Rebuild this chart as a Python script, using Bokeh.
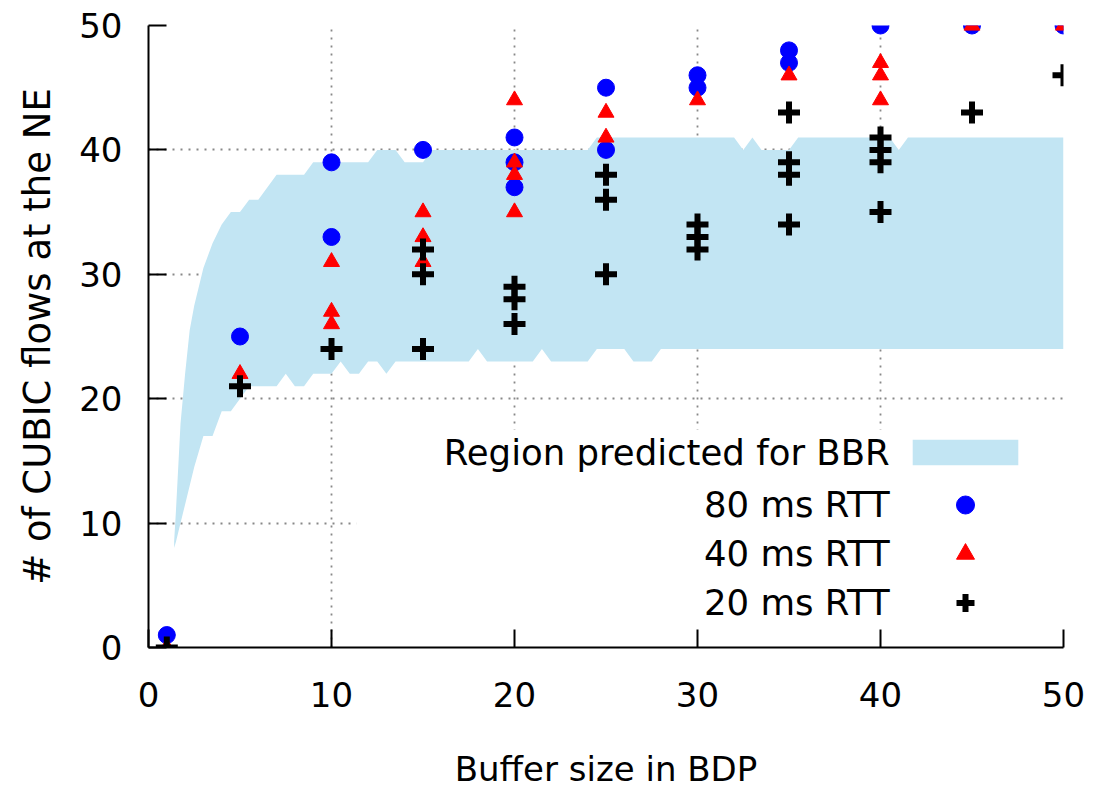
from bokeh.plotting import figure
from bokeh.models import (Range1d, FixedTicker, Legend, LegendItem, Label,
                          BoxAnnotation)
from bokeh.core.properties import value
from bokeh.embed import file_html
from bokeh.resources import INLINE

FONT = "DejaVu Sans"

# ---------------- data ----------------
x_ticks = [0, 10, 20, 30, 40, 50]
y_ticks = [0, 10, 20, 30, 40, 50]

band_x = [1.4, 1.5, 1.75, 2.0, 2.25, 2.5,
          3.0, 3.5, 4.0, 4.5, 5.0, 5.5, 6.0, 6.5, 7.0, 7.5, 8.0, 8.5, 9.0, 9.5,
          10.0, 10.5, 11.0, 11.5, 12.0, 12.5, 13.0, 13.5, 14.0, 14.5, 15.0, 15.5,
          16.0, 16.5, 17.0, 17.5, 18.0, 18.5, 19.0, 19.5, 20.0, 20.5, 21.0, 21.5,
          22.0, 22.5, 23.0, 23.5, 24.0, 24.5, 25.0, 25.5, 26.0, 26.5, 27.0, 27.5,
          28.0, 28.5, 29.0, 29.5, 30.0, 30.5, 31.0, 31.5, 32.0, 32.5, 33.0, 33.5,
          34.0, 34.5, 35.0, 35.5, 36.0, 36.5, 37.0, 37.5, 38.0, 38.5, 39.0, 39.5,
          40.0, 40.5, 41.0, 41.5, 42.0, 42.5, 43.0, 43.5, 44.0, 44.5, 45.0, 45.5,
          46.0, 46.5, 47.0, 47.5, 48.0, 48.5, 49.0, 49.5, 50.0]
band_lo = [8.0, 8.5, 10.0, 11.5, 13.0, 14.5,
           17, 17, 19, 19, 20, 21, 21, 21, 21, 22, 21, 21, 22, 22,
           22, 23, 22, 22, 23, 23, 22, 23, 23, 23, 23, 23,
           23, 23, 23, 23, 24, 23, 23, 23, 23, 23, 23, 24,
           23, 23, 23, 23, 23, 24, 24, 24, 24, 23, 23, 23,
           24, 24, 24, 24, 24, 24, 24, 24, 24, 24, 24, 24,
           24, 24, 24, 24, 24, 24, 24, 24, 24, 24, 24, 24,
           24, 24, 24, 24, 24, 24, 24, 24, 24, 24, 24, 24,
           24, 24, 24, 24, 24, 24, 24, 24, 24]
band_hi = [8.5, 11.0, 18.0, 22.0, 25.5, 27.5,
           30.5, 32.5, 34, 35, 35, 36, 36, 37, 38, 38, 38, 38, 39, 39,
           39, 39, 39, 39, 39, 40, 40, 40, 39, 39, 39, 40,
           40, 40, 40, 40, 40, 40, 40, 40, 40, 40, 40, 40,
           40, 40, 40, 40, 40, 41, 41, 41, 41, 41, 41, 41,
           41, 41, 41, 41, 41, 41, 41, 41, 41, 40, 41, 40,
           40, 40, 40, 41, 41, 41, 41, 41, 41, 41, 41, 41,
           41, 41, 40, 41, 41, 41, 41, 41, 41, 41, 41, 41,
           41, 41, 41, 41, 41, 41, 41, 41, 41]

rtt80_x = [1, 5, 10, 10, 15, 20, 20, 20, 25, 25, 30, 30, 35, 35, 40, 45, 50]
rtt80_y = [1, 25, 39, 33, 40, 41, 39, 37, 45, 40, 46, 45, 48, 47, 50, 50, 50]

rtt40_x = [1, 5, 10, 10, 10, 15, 15, 15, 20, 20, 20, 20, 25, 25, 30, 35,
           40, 40, 40, 45, 50]
rtt40_y = [0, 22, 31, 27, 26, 35, 33, 31, 44, 39, 38, 35, 43, 41, 44, 46,
           47, 46, 44, 50, 50]

rtt20_x = [1, 5, 10, 15, 15, 15, 20, 20, 20, 25, 25, 25, 30, 30, 30,
           35, 35, 35, 35, 40, 40, 40, 40, 45, 50]
rtt20_y = [0, 21, 24, 32, 30, 24, 29, 28, 26, 38, 36, 30, 34, 33, 32,
           43, 39, 38, 34, 41, 40, 39, 35, 43, 46]

legend_labels = ["Region predicted for BBR", "80 ms RTT", "40 ms RTT", "20 ms RTT"]

# ---------------- figure ----------------
p = figure(width=1096, height=791, x_range=Range1d(0, 50), y_range=Range1d(0, 50),
           output_backend="svg", toolbar_location=None,
           min_border_left=148, min_border_right=33,
           min_border_top=25, min_border_bottom=143)
p.outline_line_color = None
p.background_fill_color = "white"
p.border_fill_color = "white"

# grid
for g, t in ((p.xgrid[0], x_ticks), (p.ygrid[0], y_ticks)):
    g.ticker = FixedTicker(ticks=t)
    g.grid_line_color = "#888888"
    g.grid_line_width = 1.8
    g.grid_line_dash = "2 6"

# opaque key background (hides the grid behind the key)
key_bg = BoxAnnotation(left=11.35, right=50, bottom=0, top=17.5,
                       fill_color="white", fill_alpha=1.0, line_color=None,
                       level="underlay")
p.add_layout(key_bg)

band = p.varea(x=band_x, y1=band_lo, y2=band_hi, fill_color="#c2e5f3")

r80 = p.scatter(rtt80_x, rtt80_y, marker="circle", size=17,
                fill_color="blue", line_color="blue")
r40 = p.scatter(rtt40_x, rtt40_y, marker="triangle", size=16,
                fill_color="red", line_color="red")
r20 = p.scatter(rtt20_x, rtt20_y, marker="cross", size=22,
                line_color="black", line_width=6)

# axes
for ax, t in ((p.xaxis[0], x_ticks), (p.yaxis[0], y_ticks)):
    ax.ticker = FixedTicker(ticks=t)
    ax.axis_line_width = 2
    ax.axis_line_color = "black"
    ax.major_tick_in = 18
    ax.major_tick_out = 0
    ax.major_tick_line_width = 2
    ax.minor_tick_in = 0
    ax.minor_tick_out = 0
    ax.major_label_text_font = FONT
    ax.major_label_text_font_size = "34px"
    ax.major_label_text_color = "black"
    ax.axis_label_text_font = FONT
    ax.axis_label_text_font_style = "normal"
    ax.axis_label_text_color = "black"

p.xaxis.axis_label = "Buffer size in BDP"
p.yaxis.axis_label = "# of CUBIC flows at the NE"
p.xaxis.axis_label_text_font_size = "34px"
p.yaxis.axis_label_text_font_size = "37px"
p.xaxis.major_label_standoff = 34
p.xaxis.axis_label_standoff = 39
p.yaxis.major_label_standoff = 26
p.yaxis.axis_label_standoff = 17

# key: swatches via bokeh legends, texts right-aligned to their left
common = dict(padding=0, margin=0, label_standoff=0, label_width=0,
              label_height=0, label_text_font_size="1px",
              background_fill_alpha=0, border_line_alpha=0,
              glyph_width=132)
leg_band = Legend(items=[LegendItem(label=value(" "), renderers=[band])],
                  location=(751, 179), glyph_height=32, spacing=0, **common)
leg_pts = Legend(items=[LegendItem(label=value(" "), renderers=[r80]),
                        LegendItem(label=value(" "), renderers=[r40]),
                        LegendItem(label=value(" "), renderers=[r20])],
                 location=(751, 22), glyph_height=45, spacing=4, **common)
p.add_layout(leg_band)
p.add_layout(leg_pts)

label_y = [15.65, 11.48, 7.54, 3.61]
for txt, yy in zip(legend_labels, label_y):
    p.add_layout(Label(x=40.5, y=yy, text=txt, text_align="right",
                       text_baseline="middle", text_font=FONT,
                       text_font_size="35.5px", text_color="black"))

open("out.html", "w").write(file_html(p, INLINE))
